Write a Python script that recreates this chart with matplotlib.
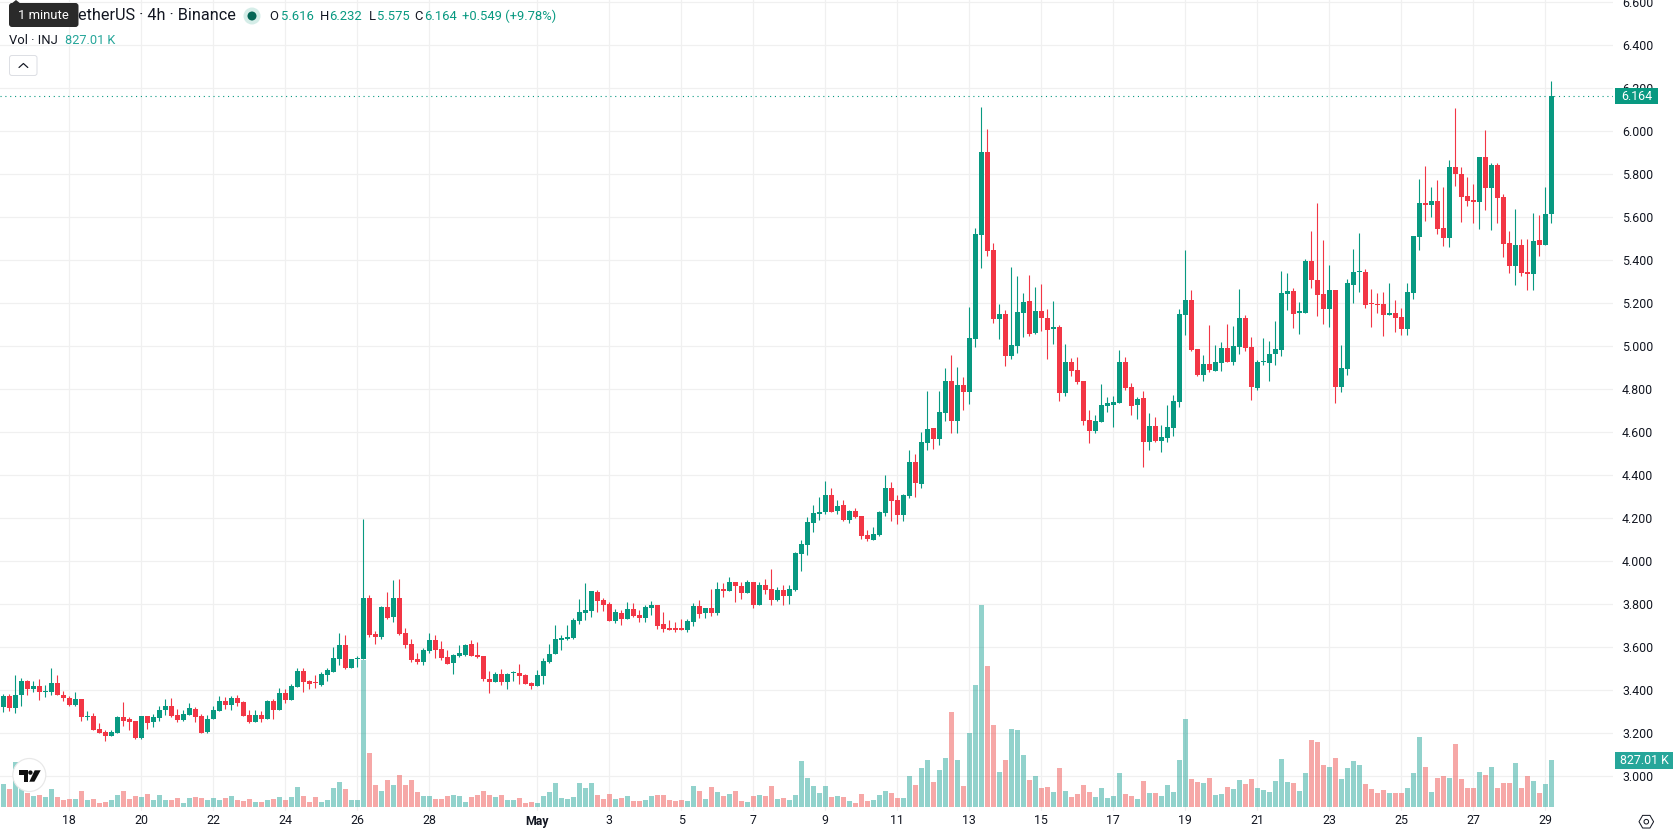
import matplotlib
matplotlib.use('Agg')
import matplotlib.pyplot as plt
from matplotlib.patches import Circle, FancyBboxPatch, Polygon, Rectangle, RegularPolygon
import numpy as np

plt.rcParams['font.family'] = ['Roboto', 'DejaVu Sans']

# INJ/USDT 4h candles
opens = [3.319,3.374,3.315,3.375,3.443,3.403,3.420,3.389,3.389,3.434,3.378,3.364,3.329,3.360,3.273,3.281,3.220,3.206,3.187,3.201,
    3.276,3.267,3.257,3.178,3.281,3.253,3.271,3.308,3.327,3.285,3.262,3.285,3.313,3.281,3.206,3.267,3.304,3.350,3.332,3.364,
    3.346,3.285,3.253,3.285,3.267,3.350,3.308,3.388,3.355,3.416,3.490,3.443,3.434,3.425,3.471,3.485,3.546,3.611,3.504,3.544,
    3.546,3.830,3.662,3.648,3.788,3.741,3.830,3.667,3.616,3.546,3.532,3.583,3.634,3.592,3.555,3.527,3.560,3.565,3.616,3.565,
    3.560,3.453,3.439,3.476,3.439,3.478,3.481,3.471,3.434,3.420,3.467,3.532,3.569,3.634,3.639,3.644,3.723,3.760,3.769,3.858,
    3.821,3.802,3.723,3.760,3.732,3.779,3.751,3.737,3.783,3.797,3.709,3.690,3.686,3.686,3.681,3.718,3.793,3.760,3.783,3.760,
    3.872,3.862,3.904,3.886,3.853,3.904,3.797,3.890,3.872,3.821,3.867,3.839,3.866,4.034,4.076,4.178,4.220,4.230,4.309,4.234,
    4.262,4.192,4.234,4.211,4.123,4.099,4.123,4.225,4.341,4.286,4.216,4.304,4.462,4.360,4.551,4.621,4.570,4.691,4.840,4.653,
    4.821,4.788,5.035,5.518,5.904,5.448,5.128,5.152,4.956,5.003,5.156,5.212,5.063,5.166,5.133,5.082,5.091,4.783,4.928,4.890,
    4.839,4.658,4.606,4.648,4.723,4.727,4.737,4.928,4.811,4.727,4.760,4.555,4.630,4.560,4.574,4.620,4.741,5.147,5.216,4.988,
    4.867,4.918,4.886,4.923,4.993,4.928,4.998,5.133,4.998,4.807,4.925,4.923,4.965,4.984,5.244,5.258,5.156,5.156,5.398,5.309,
    5.244,5.174,5.263,4.811,4.895,5.286,5.343,5.346,5.200,5.197,5.197,5.146,5.155,5.137,5.081,5.248,5.509,5.667,5.658,5.677,
    5.551,5.504,5.835,5.802,5.700,5.681,5.672,5.882,5.737,5.844,5.695,5.481,5.374,5.472,5.346,5.337,5.495,5.472,5.616]
highs = [3.383,3.383,3.471,3.457,3.448,3.443,3.453,3.425,3.504,3.471,3.397,3.371,3.392,3.360,3.304,3.294,3.248,3.212,3.212,3.281,
    3.346,3.274,3.257,3.281,3.281,3.290,3.327,3.360,3.364,3.313,3.308,3.341,3.322,3.290,3.285,3.327,3.374,3.369,3.374,3.378,
    3.350,3.308,3.308,3.304,3.355,3.360,3.411,3.406,3.429,3.504,3.504,3.448,3.471,3.485,3.504,3.602,3.667,3.658,3.546,3.560,
    4.198,3.844,3.676,3.793,3.858,3.914,3.918,3.690,3.639,3.574,3.597,3.667,3.658,3.630,3.588,3.569,3.611,3.616,3.634,3.625,
    3.560,3.490,3.485,3.499,3.481,3.490,3.523,3.476,3.439,3.495,3.551,3.616,3.704,3.658,3.704,3.737,3.825,3.900,3.862,3.867,
    3.830,3.811,3.779,3.774,3.811,3.807,3.774,3.797,3.816,3.797,3.765,3.727,3.718,3.732,3.732,3.807,3.821,3.783,3.872,3.904,
    3.900,3.928,3.904,3.904,3.914,3.904,3.904,3.918,3.965,3.881,3.890,3.890,4.044,4.099,4.206,4.262,4.300,4.374,4.341,4.286,
    4.286,4.239,4.248,4.211,4.146,4.160,4.234,4.402,4.369,4.309,4.314,4.518,4.500,4.602,4.793,4.621,4.793,4.900,4.961,4.905,
    4.858,5.184,5.549,6.114,6.011,5.481,5.198,5.170,5.369,5.327,5.248,5.332,5.277,5.291,5.175,5.212,5.100,5.011,4.946,4.951,
    4.839,4.704,4.681,4.825,4.765,4.769,4.984,4.951,4.830,4.765,4.793,4.690,4.672,4.634,4.727,4.774,5.174,5.449,5.263,4.988,
    4.960,5.100,5.007,5.021,5.105,5.095,5.268,5.147,5.044,4.937,5.039,5.025,5.119,5.351,5.342,5.272,5.207,5.407,5.538,5.668,
    5.496,5.379,5.263,5.007,5.314,5.453,5.528,5.360,5.267,5.248,5.253,5.295,5.216,5.178,5.295,5.514,5.779,5.840,5.742,5.774,
    5.742,5.868,6.110,5.835,5.788,5.756,5.882,6.007,5.854,5.854,5.709,5.537,5.639,5.500,5.500,5.621,5.611,5.742,6.232]
lows = [3.296,3.301,3.291,3.324,3.378,3.389,3.352,3.366,3.375,3.375,3.347,3.324,3.324,3.254,3.262,3.212,3.201,3.164,3.187,3.201,
    3.234,3.215,3.170,3.173,3.220,3.229,3.257,3.285,3.276,3.253,3.257,3.285,3.253,3.201,3.201,3.267,3.304,3.313,3.308,3.327,
    3.281,3.248,3.253,3.253,3.267,3.267,3.308,3.341,3.355,3.416,3.392,3.406,3.411,3.420,3.443,3.485,3.518,3.499,3.504,3.509,
    3.546,3.648,3.616,3.639,3.732,3.718,3.658,3.597,3.532,3.523,3.518,3.574,3.551,3.541,3.523,3.476,3.555,3.560,3.560,3.551,
    3.443,3.388,3.439,3.425,3.406,3.443,3.429,3.429,3.406,3.420,3.429,3.527,3.569,3.588,3.634,3.639,3.709,3.727,3.741,3.765,
    3.769,3.723,3.714,3.704,3.732,3.741,3.718,3.718,3.751,3.686,3.672,3.681,3.672,3.681,3.672,3.700,3.737,3.737,3.746,3.751,
    3.835,3.862,3.811,3.825,3.853,3.783,3.797,3.849,3.797,3.816,3.797,3.802,3.861,3.955,4.029,4.137,4.192,4.220,4.230,4.220,
    4.188,4.178,4.202,4.104,4.095,4.099,4.118,4.211,4.188,4.174,4.188,4.295,4.300,4.341,4.518,4.523,4.542,4.653,4.598,4.598,
    4.705,4.733,4.998,5.364,5.420,5.110,5.035,4.910,4.942,4.970,5.044,5.049,5.058,5.072,4.942,5.012,4.747,4.769,4.862,4.825,
    4.634,4.551,4.597,4.648,4.695,4.625,4.737,4.797,4.681,4.662,4.439,4.518,4.555,4.509,4.555,4.583,4.718,5.054,4.979,4.862,
    4.839,4.881,4.886,4.886,4.928,4.914,4.965,4.979,4.751,4.797,4.914,4.839,4.914,4.956,5.170,5.086,5.058,5.156,5.272,5.142,
    5.105,5.091,4.737,4.788,4.867,5.202,5.253,5.178,5.090,5.155,5.048,5.146,5.067,5.053,5.053,5.220,5.449,5.584,5.602,5.523,
    5.467,5.462,5.746,5.579,5.653,5.574,5.546,5.635,5.542,5.574,5.416,5.341,5.286,5.327,5.262,5.262,5.421,5.472,5.575]
closes = [3.374,3.315,3.378,3.443,3.403,3.420,3.389,3.392,3.434,3.375,3.364,3.329,3.360,3.273,3.281,3.215,3.201,3.187,3.206,3.276,
    3.257,3.253,3.178,3.281,3.248,3.276,3.308,3.327,3.281,3.262,3.290,3.318,3.276,3.201,3.267,3.308,3.350,3.332,3.364,3.341,
    3.281,3.253,3.285,3.267,3.350,3.308,3.388,3.355,3.420,3.490,3.439,3.429,3.431,3.476,3.495,3.551,3.611,3.504,3.546,3.547,
    3.830,3.658,3.648,3.788,3.737,3.830,3.662,3.611,3.541,3.532,3.588,3.634,3.588,3.551,3.523,3.565,3.574,3.611,3.560,3.555,
    3.453,3.439,3.476,3.439,3.476,3.481,3.467,3.429,3.420,3.471,3.537,3.569,3.639,3.644,3.648,3.727,3.765,3.774,3.862,3.816,
    3.797,3.723,3.765,3.732,3.779,3.746,3.737,3.788,3.797,3.700,3.686,3.681,3.681,3.681,3.723,3.793,3.755,3.783,3.760,3.872,
    3.862,3.904,3.886,3.853,3.904,3.797,3.890,3.867,3.821,3.867,3.839,3.872,4.039,4.081,4.183,4.225,4.230,4.309,4.230,4.258,
    4.192,4.234,4.206,4.118,4.104,4.127,4.230,4.341,4.281,4.216,4.309,4.462,4.365,4.556,4.616,4.570,4.695,4.840,4.653,4.821,
    4.788,5.040,5.521,5.904,5.443,5.128,5.152,4.956,5.007,5.161,5.207,5.058,5.166,5.133,5.077,5.091,4.784,4.928,4.886,4.835,
    4.653,4.606,4.653,4.727,4.737,4.741,4.928,4.807,4.723,4.755,4.555,4.630,4.560,4.578,4.625,4.746,5.151,5.216,4.984,4.867,
    4.918,4.890,4.928,4.993,4.928,5.002,5.133,4.993,4.811,4.928,4.928,4.965,4.988,5.249,5.258,5.151,5.160,5.398,5.309,5.240,
    5.174,5.263,4.811,4.900,5.296,5.346,5.346,5.192,5.196,5.192,5.146,5.155,5.132,5.081,5.253,5.514,5.667,5.658,5.677,5.546,
    5.504,5.835,5.802,5.695,5.677,5.672,5.882,5.737,5.844,5.691,5.476,5.374,5.472,5.341,5.337,5.490,5.472,5.616,6.164]
# volume in thousands of INJ
volumes = [405,317,786,563,246,194,211,176,317,176,123,141,141,282,123,141,70,88,123,211,
    282,141,194,176,229,123,211,123,123,158,70,158,176,158,123,158,123,158,194,123,
    106,141,88,88,123,141,176,123,176,352,194,88,176,88,123,334,440,317,123,123,
    2586,950,387,282,475,387,563,387,475,264,194,194,141,141,194,211,194,88,176,211,
    282,211,176,211,123,123,158,70,88,70,194,264,422,158,141,176,422,334,422,211,
    141,229,141,158,194,106,106,123,194,211,211,123,106,123,106,369,282,141,352,264,
    194,229,282,106,88,194,211,194,369,141,158,123,211,809,510,369,246,369,176,194,
    176,106,70,229,106,123,211,282,246,158,158,545,387,686,827,440,651,862,1672,827,
    369,1302,2147,3554,2481,1443,616,827,1372,1355,915,475,545,334,352,264,686,282,176,229,
    387,264,176,334,158,194,598,229,194,141,457,246,246,194,387,264,827,1548,493,440,
    422,510,211,229,352,317,475,405,493,334,299,264,457,845,440,422,282,598,1179,1144,
    739,704,862,493,686,809,739,405,317,246,299,246,246,246,334,598,1232,704,264,510,
    545,510,1108,493,334,334,616,563,704,334,422,422,774,334,545,457,246,405,827.01]

# candle index of each day label
date_ticks = [11, 23, 35, 47, 59, 71, 89, 101, 113, 125, 137, 149, 161, 173, 185, 197, 209, 221, 233, 245, 257]
date_labels = ['18', '20', '22', '24', '26', '28', 'May', '3', '5', '7', '9', '11', '13', '15', '17', '19', '21', '23', '25', '27', '29']
price_ticks = [3.0, 3.2, 3.4, 3.6, 3.8, 4.0, 4.2, 4.4, 4.6, 4.8, 5.0, 5.2, 5.4, 5.6, 5.8, 6.0, 6.2, 6.4, 6.6]

UP = '#089981'
DOWN = '#F23645'
VOL_UP = '#26A69A'
VOL_DOWN = '#EF5350'
TEXT = '#131722'
GRID = '#F0F0F0'
W, H = 1678, 835
PANE_W, PANE_H = 1613, 811
PX = 72 / 100  # one pixel in points
FS = 12.4 * PX

opens, highs, lows, closes, volumes = map(np.array, (opens, highs, lows, closes, volumes))
xs = np.arange(len(closes))
is_up = closes >= opens

fig = plt.figure(figsize=(W / 100, H / 100), dpi=100, facecolor='white')
ax = fig.add_axes([0, 1 - PANE_H / H, PANE_W / W, PANE_H / H])
ax.set_xlim(-3.3 / 6, (PANE_W - 3.3) / 6)
ax.set_ylim(6 - (PANE_H - 131.3) / 214.9, 6 + 131.3 / 214.9)

# volume pane shares the x axis, baseline 4 px above the pane bottom
ax_vol = ax.twinx()
ax_vol.set_zorder(ax.get_zorder() + 1)
ax_vol.patch.set_visible(False)
k_per_px = volumes[-1] / 47
ax_vol.set_ylim(-4 * k_per_px, 807 * k_per_px)
ax_vol.bar(xs, volumes, width=5 / 6, lw=0, alpha=0.5, color=np.where(is_up, VOL_UP, VOL_DOWN))
ax_vol.axis('off')
vol_tf = ax_vol.get_yaxis_transform()
ax_vol.add_patch(Rectangle((2 / PANE_W + 1, volumes[-1] - 8.5 * k_per_px), 58 / PANE_W, 17 * k_per_px,
                           transform=vol_tf, color=VOL_UP, lw=0, clip_on=False, zorder=5))
ax_vol.text(1 + 31 / PANE_W, volumes[-1], f'{volumes[-1]:.2f} K', transform=vol_tf, color='white',
            fontsize=FS, ha='center', va='center', zorder=6, clip_on=False)

for s in ax.spines.values():
    s.set_visible(False)
ax.set_axisbelow(True)
ax.grid(True, color=GRID, lw=1.25 * PX)
ax.yaxis.tick_right()
ax.set_yticks(price_ticks, [f'{p:.3f}' for p in price_ticks])
ax.set_xticks(date_ticks, date_labels)
ax.tick_params(axis='y', length=0, pad=9 * PX, labelsize=FS, labelcolor=TEXT)
ax.tick_params(axis='x', length=0, pad=3.5 * PX, labelsize=FS, labelcolor=TEXT)
ax.get_xticklabels()[date_labels.index('May')].set_fontweight('bold')

# wicks then bodies
colors = np.where(is_up, UP, DOWN)
ax.vlines(xs, lows, highs, colors=colors, lw=1.1 * PX, zorder=2)
ax.bar(xs, np.maximum(np.abs(closes - opens), 0.006), bottom=np.minimum(opens, closes),
       width=5 / 6, color=colors, lw=0, zorder=3)

# last price line and its tag on the scale
ax.axhline(closes[-1], color=UP, lw=1.1 * PX, ls=(0, (1, 3.4)), zorder=1.5)
tag_tf = ax.get_yaxis_transform()
ax.add_patch(Rectangle((2 / PANE_W + 1, closes[-1] - 8.2 / 214.9), 43 / PANE_W, 16.4 / 214.9,
                       transform=tag_tf, color=UP, lw=0, clip_on=False, zorder=5))
ax.text(1 + 23.5 / PANE_W, closes[-1], f'{closes[-1]:.3f}', transform=tag_tf, color='white',
        fontsize=FS, ha='center', va='center', zorder=6, clip_on=False)

# header, logo and buttons on a pixel-addressed layer
ui = fig.add_axes([0, 0, 1, 1], zorder=10)
ui.set_xlim(0, W)
ui.set_ylim(H, 0)
ui.axis('off')

ui.text(77.5, 16, 'etherUS · 4h · Binance', fontsize=16.2 * PX, color=TEXT, va='center')
ui.add_patch(Circle((252, 16), 8.5, color='#D5EDE8', lw=0))
ui.add_patch(Circle((252, 16), 4.5, color='#056656', lw=0))
legend_bits = [(269.6, 'O', TEXT), (281, f'{opens[-1]:.3f}', UP), (319.6, 'H', TEXT), (329.6, f'{highs[-1]:.3f}', UP),
               (368.6, 'L', TEXT), (376.8, f'{lows[-1]:.3f}', UP), (414.3, 'C', TEXT), (424, f'{closes[-1]:.3f}', UP),
               (462.5, '+0.549 (+9.78%)', UP)]
for x, s, c in legend_bits:
    ui.text(x, 16, s, fontsize=13 * PX, color=c, va='center')
ui.text(9, 40.6, 'Vol · INJ', fontsize=13 * PX, color=TEXT, va='center')
ui.text(65, 40.6, f'{volumes[-1]:.2f} K', fontsize=12.8 * PX, color=VOL_UP, va='center')

# tooltip over the symbol name
ui.add_patch(FancyBboxPatch((12, 6), 63.5, 18, boxstyle='round,pad=3,rounding_size=3', fc='#2A2A2A', ec='none'))
ui.add_patch(Polygon([(11, 4), (16, 0), (21, 4)], fc='#2A2A2A', ec='none'))
ui.text(43, 15.5, '1 minute', fontsize=13 * PX, color='white', ha='center', va='center')

# collapse button
ui.add_patch(FancyBboxPatch((11.5, 57.5), 23.5, 16, boxstyle='round,pad=2,rounding_size=2.5',
                            fc='white', ec='#DDDFE4', lw=1 * PX))
ui.plot([19, 23.4, 27.8], [67.5, 63.5, 67.5], color=TEXT, lw=1.2 * PX, solid_capstyle='round')

# logo badge
ui.add_patch(Circle((29.3, 775), 16.5, fc='white', ec='#E8E8E8', lw=1.2 * PX))
ui.add_patch(Polygon([(19, 770.3), (27.7, 770.3), (27.7, 781.7), (23.5, 781.7), (23.5, 774.5), (19, 774.5)], fc='#0F0F0F', ec='none'))
ui.add_patch(Circle((30.4, 772.6), 2.2, fc='#0F0F0F', ec='none'))
ui.add_patch(Polygon([(34.7, 770.3), (40.7, 770.3), (34.4, 781.7), (29.3, 781.7)], fc='#0F0F0F', ec='none'))

# settings icon
ui.add_patch(RegularPolygon((1646.3, 821.7), 6, radius=7.3, orientation=np.pi / 6, fc='none', ec=TEXT, lw=1 * PX))
ui.add_patch(Circle((1646.3, 821.7), 2.3, fc='none', ec=TEXT, lw=1 * PX))

fig.savefig('out.png', dpi=100)
